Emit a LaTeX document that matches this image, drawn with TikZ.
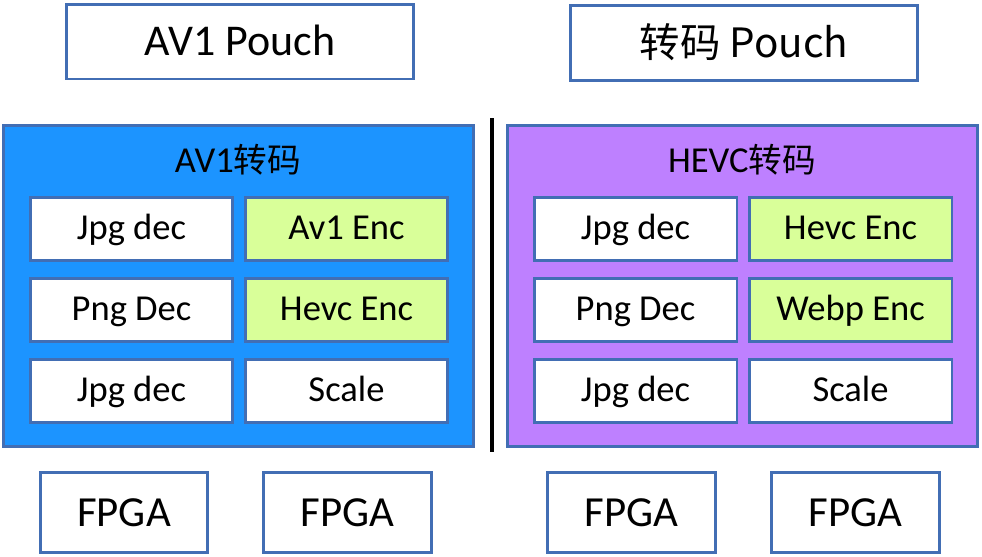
\documentclass[tikz,border=0pt]{standalone}
\usepackage{fontspec}
\setmainfont{Carlito}
\newfontfamily\cjk[Scale=0.92]{Noto Sans CJK SC}
\usepackage{xcolor}
\usepackage{tikz}
\usetikzlibrary{positioning, calc}

\definecolor{edgeblue}{RGB}{66,110,180}
\definecolor{avblue}{RGB}{28,148,255}
\definecolor{hevcpurple}{RGB}{190,128,255}
\definecolor{encgreen}{RGB}{217,255,153}

\tikzset{
  unitbox/.style={draw=edgeblue, line width=1.7pt, fill=white, inner sep=0pt},
  pouchbox/.style={unitbox, minimum width=6.96cm, minimum height=1.5cm, text height=21pt, text depth=5pt, font=\fontsize{25}{29}\selectfont},
  groupbox/.style={unitbox, minimum width=9.42cm, minimum height=6.44cm},
  codecbox/.style={unitbox, minimum width=4.06cm, minimum height=1.26cm, text height=17pt, text depth=4.5pt, font=\fontsize{20.8}{24}\selectfont},
  encbox/.style={codecbox, fill=encgreen},
  fpgabox/.style={unitbox, minimum width=3.36cm, minimum height=1.6cm, text height=21pt, text depth=4.5pt, font=\fontsize{24.4}{28}\selectfont},
  grouptitle/.style={font=\fontsize{20.8}{24}\selectfont}
}

\begin{document}
\begin{tikzpicture}[x=0.02cm, y=-0.02cm]
  % Page frame
  \useasboundingbox (0,0) rectangle (982,556);

  % Pouch labels
  \node[pouchbox] (av1pouch) at (240,41.5) {AV1 Pouch};
  \node[pouchbox] (tcpouch) at (744,43) {\cjk{转码} Pouch};

  % Transcode groups
  \node[groupbox, fill=avblue] (av1group) at (238.5,286) {};
  \node[groupbox, fill=hevcpurple] (hevcgroup) at (742.5,286) {};
  \node[grouptitle] (av1title) at (238,160) {AV1\cjk{转码}};
  \node[grouptitle] (hevctitle) at (742,160) {HEVC\cjk{转码}};

  % Divider
  \coordinate (divtop) at (492,118);
  \coordinate (divbot) at (492,452);
  \draw[line width=1.8pt] (divtop) -- (divbot);

  % AV1 group codecs
  \node[codecbox] (av1jpga) at (131.5,229) {Jpg dec};
  \node[encbox] (av1enc) at (346.5,229) {Av1 Enc};
  \node[codecbox] (av1png) at (131.5,309.5) {Png Dec};
  \node[encbox] (av1hevc) at (346.5,309.5) {Hevc Enc};
  \node[codecbox] (av1jpgb) at (131.5,390.5) {Jpg dec};
  \node[codecbox] (av1scale) at (346.5,390.5) {Scale};

  % HEVC group codecs
  \node[codecbox] (hevcjpga) at (635.5,229) {Jpg dec};
  \node[encbox] (hevcenc) at (850.5,229) {Hevc Enc};
  \node[codecbox] (hevcpng) at (635.5,309.5) {Png Dec};
  \node[encbox] (hevcwebp) at (850.5,309.5) {Webp Enc};
  \node[codecbox] (hevcjpgb) at (635.5,390.5) {Jpg dec};
  \node[codecbox] (hevcscale) at (850.5,390.5) {Scale};

  % FPGA cards
  \node[fpgabox] (fpgaa) at (124,512) {FPGA};
  \node[fpgabox] (fpgab) at (347.5,512) {FPGA};
  \node[fpgabox] (fpgac) at (631.5,512) {FPGA};
  \node[fpgabox] (fpgad) at (855.5,512) {FPGA};
\end{tikzpicture}
\end{document}
